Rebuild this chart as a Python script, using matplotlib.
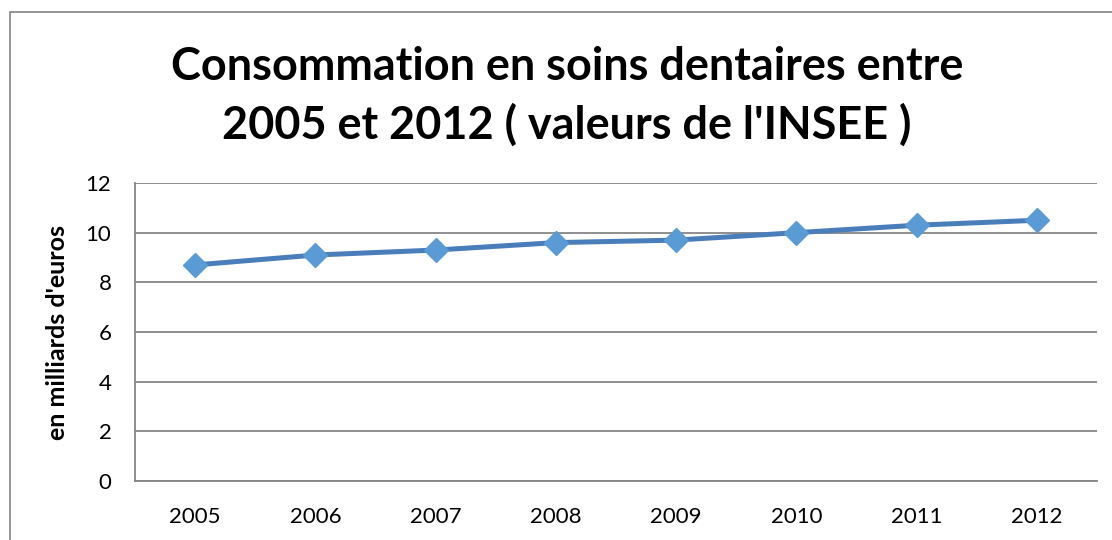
import matplotlib
matplotlib.use("Agg")
import matplotlib.pyplot as plt
from matplotlib.patches import Rectangle

years = ['2005', '2006', '2007', '2008', '2009', '2010', '2011', '2012']
valeurs = [8.7, 9.1, 9.3, 9.6, 9.7, 10.0, 10.3, 10.5]
yticks = [0, 2, 4, 6, 8, 10, 12]
titre = ["Consommation en soins dentaires entre",
         "2005 et 2012 ( valeurs de l'INSEE )"]

plt.rcParams['font.family'] = ['Lato', 'DejaVu Sans']

W, H = 1112, 540
fig = plt.figure(figsize=(W / 100, H / 100), dpi=100)
fig.patch.set_facecolor('white')

# outer chart frame (runs off the right and bottom edges)
fig.patches.append(Rectangle((10 / W, -0.05), 1.2, 1 - 12 / H + 0.05,
                             transform=fig.transFigure, fill=False,
                             edgecolor='#8c8c8c', linewidth=1.3))

ax = fig.add_axes([135 / W, 1 - 481 / H, (1097 - 135) / W, (481 - 183) / H])
x = range(len(years))
ax.plot(x, valeurs, '-', color='#4a7ebb', linewidth=3.6, zorder=3)
ax.plot(x, valeurs, 'D', color='#5b9bd5', markersize=12.5, zorder=4)

ax.set_xlim(-0.5, len(years) - 0.5)
ax.set_ylim(0, 12)
ax.set_yticks(yticks)
ax.set_xticks(list(x))
ax.set_xticklabels(years)
ax.tick_params(axis='both', length=0, labelsize=16, colors='black')
ax.tick_params(axis='x', pad=19)
ax.tick_params(axis='y', pad=17)
ax.grid(axis='y', color='#868686', linewidth=1.3)
ax.set_axisbelow(True)
for s in ['top', 'right']:
    ax.spines[s].set_visible(False)
for s in ['left', 'bottom']:
    ax.spines[s].set_color('#868686')
    ax.spines[s].set_linewidth(1.3)

ax.set_ylabel("en milliards d'euros", fontsize=18, fontweight='bold', labelpad=12)

# title: two lines, baselines placed like the reference
fig.text(0.51, 1 - 80 / H, titre[0], ha='center', va='baseline',
         fontsize=32.4, fontweight='bold')
fig.text(0.51, 1 - 139 / H, titre[1], ha='center', va='baseline',
         fontsize=32.4, fontweight='bold')

fig.savefig('out.png', dpi=100)
